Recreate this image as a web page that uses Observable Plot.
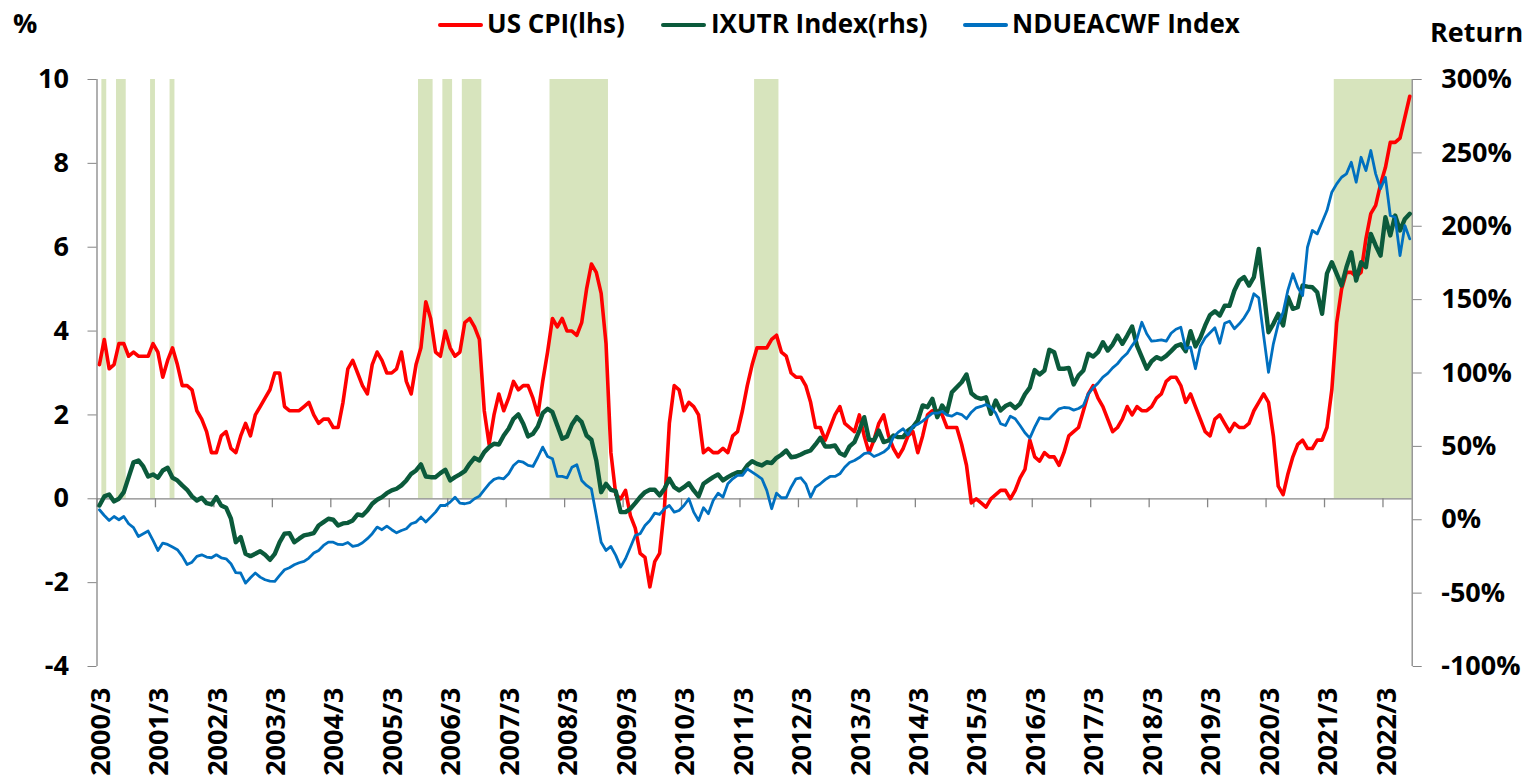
<!DOCTYPE html>
<html><head><meta charset="utf-8">
<script src="https://cdn.jsdelivr.net/npm/d3@7"></script>
<script src="https://cdn.jsdelivr.net/npm/@observablehq/plot@0.6"></script>
<style>
html,body{margin:0;padding:0;background:#fff;}
#wrap{position:relative;width:1526px;height:784px;overflow:hidden;font-family:"Open Sans",sans-serif;font-weight:700;color:#000;background:#fff;}
.t{position:absolute;white-space:nowrap;line-height:1;}
.sw{position:absolute;height:4px;border-radius:2px;}
</style></head><body>
<div id="wrap">
  <div id="hdr"></div>
  <div id="chart" style="position:absolute;left:0;top:48px;"></div>
</div>
<script>
// Monthly series, first value = 2000/2, last = 2022/7
const usCpi = [
 3.2,3.8,3.1,3.2,3.7,3.7,3.4,3.5,3.4,3.4,3.4,
 3.7,3.5,2.9,3.3,3.6,3.2,2.7,2.7,2.6,2.1,1.9,1.6,
 1.1,1.1,1.5,1.6,1.2,1.1,1.5,1.8,1.5,2.0,2.2,2.4,
 2.6,3.0,3.0,2.2,2.1,2.1,2.1,2.2,2.3,2.0,1.8,1.9,
 1.9,1.7,1.7,2.3,3.1,3.3,3.0,2.7,2.5,3.2,3.5,3.3,
 3.0,3.0,3.1,3.5,2.8,2.5,3.2,3.6,4.7,4.3,3.5,3.4,
 4.0,3.6,3.4,3.5,4.2,4.3,4.1,3.8,2.1,1.3,2.0,2.5,
 2.1,2.4,2.8,2.6,2.7,2.7,2.4,2.0,2.8,3.5,4.3,4.1,
 4.3,4.0,4.0,3.9,4.2,5.0,5.6,5.4,4.9,3.7,1.1,0.1,
 0.0,0.2,-0.4,-0.7,-1.3,-1.4,-2.1,-1.5,-1.3,-0.2,1.8,2.7,
 2.6,2.1,2.3,2.2,2.0,1.1,1.2,1.1,1.1,1.2,1.1,1.5,
 1.6,2.1,2.7,3.2,3.6,3.6,3.6,3.8,3.9,3.5,3.4,3.0,
 2.9,2.9,2.7,2.3,1.7,1.7,1.4,1.7,2.0,2.2,1.8,1.7,
 1.6,2.0,1.5,1.1,1.4,1.8,2.0,1.5,1.2,1.0,1.2,1.5,
 1.6,1.1,1.5,2.0,2.1,2.1,2.0,1.7,1.7,1.7,1.3,0.8,
 -0.1,0.0,-0.1,-0.2,0.0,0.1,0.2,0.2,0.0,0.2,0.5,0.7,
 1.4,1.0,0.9,1.1,1.0,1.0,0.8,1.1,1.5,1.6,1.7,2.1,
 2.5,2.7,2.4,2.2,1.9,1.6,1.7,1.9,2.2,2.0,2.2,2.1,
 2.1,2.2,2.4,2.5,2.8,2.9,2.9,2.7,2.3,2.5,2.2,1.9,
 1.6,1.5,1.9,2.0,1.8,1.6,1.8,1.7,1.7,1.8,2.1,2.3,
 2.5,2.3,1.5,0.3,0.1,0.6,1.0,1.3,1.4,1.2,1.2,1.4,
 1.4,1.7,2.6,4.2,5.0,5.4,5.4,5.3,5.4,6.2,6.8,7.0,
 7.5,7.9,8.5,8.5,8.6,9.1,9.6
];
const ixutr = [
 9.7,15.9,17.2,12.5,14.3,18.8,29,39.2,40.4,36.3,29.5,30.9,
 28.6,33.6,35.4,28.6,26.8,23.4,20.4,15.9,13.1,15,11.3,10.4,
 15.4,9.7,8.2,0.7,-15.3,-11.8,-23.2,-24.8,-23.2,-21.4,-23.9,-27.3,
 -23.2,-15.3,-9.5,-9.1,-15.3,-12.9,-10.7,-10,-9.1,-3.9,-1.6,0.7,
 0,-3.9,-2.5,-2.1,-0.5,3.6,2.9,6.3,10.9,13.6,15.4,18.1,
 20,21.1,23.4,26.8,31.3,33.6,37.7,29.5,29,29,31.8,34.1,
 26.8,29,30.9,33.1,38.1,42.2,40.4,46.1,49.5,51.8,51.3,57.4,
 62,68.8,71.8,65.4,56.8,58.6,63.6,72.6,75.6,73.3,64.2,55.2,
 56.8,64.9,69.9,66.5,57.4,54.5,40.4,18.8,24.5,20.4,19.5,5.2,
 5.2,7.5,11.3,15.4,18.8,20.4,20.4,16.6,21.1,27.9,22.2,20,
 22.2,24.9,20,15.9,24.5,26.8,29,30.9,26.8,29,30.9,32.4,
 32.4,37,39.9,38.1,37,39.2,38.6,42.2,44.3,47.2,42.6,43.1,
 44.5,46.1,47.2,51.3,55.9,49.9,49.9,50.6,45.4,43.8,50,52.9,
 60.8,69.9,54.5,54,60.8,52.9,54,57.4,56.3,56.3,60.8,63.1,
 67.6,77.9,76.7,82.4,69.9,77.9,73.3,86.9,90.3,93.7,99,86.2,
 83.5,82.4,83.5,72.2,81.3,74.5,77.5,79,76,79,85.5,90,
 102,99,101.7,115.8,114.2,102.9,102.9,103.5,92.2,98.3,101.7,113.1,
 111.2,114.2,121,115.3,119.4,125.5,119.9,125.5,131.7,118.7,110.8,102.9,
 108,110.8,109.4,111.7,114.9,118.3,119.6,114.9,128.5,118.1,124,132.4,
 139.6,142.1,139.2,145.8,145.8,156.2,163,165.3,159.6,165.3,184.6,156,
 127.8,133.5,140.3,132.4,151.6,143.7,144.8,159.6,158.9,158.4,155,140.3,
 167.8,175.5,167.6,159.6,172.1,182.3,163,175.5,172.1,194.8,186.9,180,
 206.1,193.7,207.3,197.1,205,208.5
];
const ndueacwf = [
 6.8,2.9,-0.5,2.2,0,2.2,-2.7,-5.4,-11.4,-9.5,-7.7,-14.1,
 -20.9,-15.9,-16.8,-18.6,-20.4,-24.8,-30.5,-28.9,-25,-23.9,-25.4,-25.9,
 -23.9,-25.9,-26.6,-30,-36.1,-36.3,-43.2,-39.5,-36.3,-39.1,-40.9,-41.8,
 -42,-37.9,-34.1,-32.7,-30.7,-29.3,-28.4,-26.1,-22.7,-20.9,-17.5,-15.3,
 -15.3,-16.8,-16.9,-15.5,-18.2,-17.5,-15.7,-12.9,-9.5,-5,-6.8,-4.4,
 -6.8,-8.9,-7.3,-6.1,-2.7,-1.6,1.8,-1.6,1.8,5.2,9.7,9.7,
 12,15.4,11.3,10.9,11.6,14.3,16.1,20.4,24.5,27.5,28.6,27.9,
 31.3,37,39.9,39.2,37,36.3,42.6,49.5,43.1,41.6,29.5,29.5,
 28.6,35.8,37.5,26.8,23.4,21,3,-15.3,-20.9,-18.2,-24.3,-32.3,
 -26.6,-18.7,-10.7,-9.5,-3.9,-0.5,4.5,3.6,7.5,9.7,5.2,6.3,
 9.7,14.3,5.2,-0.5,8.2,4.1,13.1,18.1,15.4,24.5,27.9,30.2,
 30.2,34.7,32.4,30.2,27.9,20,7.5,18.1,15,15,22.2,27.9,
 28.6,24.5,15.4,22.2,24.5,27.3,29.5,29.5,31.3,35.8,39,40.4,
 42.4,45,45.8,43.1,44.5,46.1,49,56.3,59.7,62,57.9,63.6,
 65.1,67.2,69.9,72.6,72.6,73.8,71.3,70.6,72.6,71.7,68.8,73.3,
 76.3,77.2,78.5,76.7,72.6,65.4,64.2,70.6,68.8,64.2,59.3,55.6,
 63.1,69.5,68.8,68.8,72.2,75.6,76.5,76.3,74.7,75.8,77.9,85.8,
 89.9,93.1,97.2,99.7,103.5,106.3,110.4,113.5,118.7,123.3,134.6,126.7,
 121.7,122.1,122.6,121.7,127.1,129.8,131.2,116.5,117.6,102.9,118.1,124,
 127.4,130.8,120.3,133.9,135.3,130.1,133.5,137.6,143.1,154,151.2,125.5,
 100.5,119.9,133.5,141.4,156.7,167.6,158.4,152.8,185.7,197.1,194.8,202.7,
 210.7,223.2,228.9,233.4,235.7,243.6,230,247,237.9,251.6,235.7,225.5,
 233.4,207.3,206.1,180,200.5,191.4
];
// Shaded periods: [first month index, last month index] (index 0 = 2000/2)
const shadedPeriods = [[1,1],[4,5],[11,11],[15,15],[66,68],[71,72],[75,78],[93,104],[135,139],[254,269]];
const xTickLabels = ["2000/3","2001/3","2002/3","2003/3","2004/3","2005/3","2006/3","2007/3","2008/3","2009/3","2010/3","2011/3","2012/3","2013/3","2014/3","2015/3","2016/3","2017/3","2018/3","2019/3","2020/3","2021/3","2022/3"];
const leftTicks = [-4,-2,0,2,4,6,8,10];
const rightTicks = [-100,-50,0,50,100,150,200,250,300];
const seriesNames = ["US CPI(lhs)","IXUTR Index(rhs)","NDUEACWF Index"];
const seriesColors = ["#ff0000","#0b5a3b","#0070c0"];

// right axis (-100%..300%) mapped linearly onto left axis (-4..10)
const L0 = -4, L1 = 10, R0 = -100, R1 = 300;
const toLeft = r => L0 + (r - R0) * (L1 - L0) / (R1 - R0);
const toRight = l => R0 + (l - L0) * (R1 - R0) / (L1 - L0);

const cpiData = usCpi.map((v, i) => ({m: i + 0.5, v}));
const ixData = ixutr.map((v, i) => ({m: i + 0.5, v: toLeft(v)}));
const acData = ndueacwf.map((v, i) => ({m: i + 0.5, v: toLeft(v)}));
const xTicks = xTickLabels.map((t, k) => ({m: k * 12, t}));

const gray = "#868686";
const font = '"Open Sans", sans-serif';

const chart = Plot.plot({
  width: 1526, height: 736,
  marginLeft: 96.5, marginRight: 114.3, marginTop: 31, marginBottom: 118,
  x: {domain: [0, 270], axis: null},
  y: {domain: [L0, L1], axis: null},
  style: {fontFamily: font, background: "white", color: "black"},
  marks: [
    Plot.rect(shadedPeriods, {x1: d => d[0], x2: d => d[1] + 1, y1: 0, y2: 10, fill: "#d7e4bd"}),
    Plot.ruleY([0], {stroke: gray, strokeWidth: 1.3}),
    Plot.ruleX(xTicks, {x: "m", y1: 0, y2: 0, insetBottom: -9, stroke: gray, strokeWidth: 1.3}),
    Plot.ruleX([0], {y1: L0, y2: L1, stroke: gray, strokeWidth: 1.3}),
    Plot.ruleX([270], {y1: L0, y2: L1, stroke: gray, strokeWidth: 1.3}),
    Plot.axisY({anchor: "left", ticks: leftTicks, tickFormat: d => String(d), tickSize: 9, tickPadding: 19,
      stroke: gray, fill: "black", fontSize: 27, fontWeight: 700, label: null}),
    Plot.axisY({anchor: "right", ticks: rightTicks.map(toLeft), tickFormat: d => Math.round(toRight(d)) + "%",
      tickSize: 9, tickPadding: 20, stroke: gray, fill: "black", fontSize: 27, fontWeight: 700, label: null}),
    Plot.text(xTicks, {x: "m", y: L0, text: "t", rotate: -90, textAnchor: "end", dy: 21, dx: 4,
      fontSize: 27, fontWeight: 700, fill: "black"}),
    Plot.line(cpiData, {x: "m", y: "v", stroke: seriesColors[0], strokeWidth: 3.6}),
    Plot.line(ixData, {x: "m", y: "v", stroke: seriesColors[1], strokeWidth: 4.4}),
    Plot.line(acData, {x: "m", y: "v", stroke: seriesColors[2], strokeWidth: 2.8})
  ]
});
document.getElementById("chart").appendChild(chart);

// header: axis titles and legend
const hdr = document.getElementById("hdr");
function addText(txt, left, top, size) {
  const s = document.createElement("span");
  s.className = "t"; s.textContent = txt;
  s.style.left = left + "px"; s.style.top = top + "px"; s.style.fontSize = size + "px";
  hdr.appendChild(s);
}
function addSwatch(color, left, width) {
  const d = document.createElement("div");
  d.className = "sw"; d.style.background = color;
  d.style.left = left + "px"; d.style.top = "23px"; d.style.width = width + "px";
  hdr.appendChild(d);
}
addText("%", 13, 9, 27);
addText("Return", 1430, 18, 27);
const legendX = [[438, 487], [661, 711], [963, 1012]];
seriesNames.forEach((n, k) => {
  addSwatch(seriesColors[k], legendX[k][0], 45);
  addText(n, legendX[k][1], 10, 26);
});
</script>
</body></html>
